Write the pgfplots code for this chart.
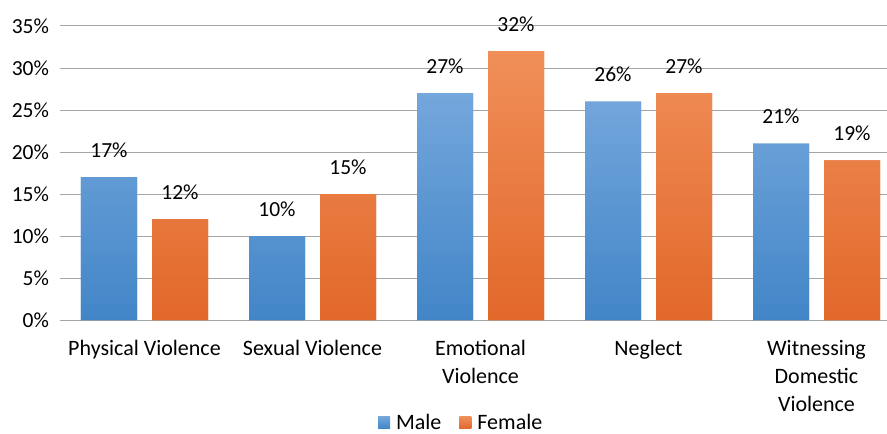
\documentclass[border=0pt]{standalone}
\usepackage{pgfplots}
\pgfplotsset{compat=1.18}
\usepackage{fontspec}
\setmainfont{Carlito}

\definecolor{maletop}{HTML}{74A7DC}
\definecolor{malebot}{HTML}{4285C7}
\definecolor{femtop}{HTML}{F08F59}
\definecolor{fembot}{HTML}{E2682A}
\definecolor{gridgray}{HTML}{A6A6A6}

\begin{document}
\begin{tikzpicture}
\useasboundingbox (-60.5pt,-114pt) rectangle (826.5pt,320pt);
\begin{axis}[
    scale only axis,
    width=840pt, height=294pt,
    ybar, bar width=56pt,
    ymin=0, ymax=35,
    xmin=-0.5, xmax=4.5,
    xtick={0,1,2,3,4},
    xticklabels={Physical Violence, Sexual Violence, Emotional\\Violence, Neglect, Witnessing\\Domestic\\Violence},
    x tick label style={align=center, font=\fontsize{22}{28}\selectfont, yshift=-17pt},
    ytick={0,5,...,35},
    yticklabel={\pgfmathprintnumber{\tick}\%},
    y tick label style={font=\fontsize{21.5}{28}\selectfont, xshift=-8pt},
    /pgf/number format/assume math mode=true,
    ymajorgrids=true,
    grid style={gridgray, line width=1pt},
    axis line style={draw=none},
    major tick length=0pt,
    nodes near coords={\pgfmathprintnumber{\pgfplotspointmeta}\%},
    nodes near coords style={font=\fontsize{21.5}{28}\selectfont, yshift=16pt},
    legend style={draw=none, at={(0.477,-0.349)}, anchor=center,
        legend columns=2, font=\fontsize{22}{28}\selectfont,
        /tikz/every even column/.append style={column sep=16pt}},
    legend image code/.code={\fill[#1] (1pt,-6pt) rectangle (13pt,6pt); \path (17pt,0pt);},
]
\addplot[bar shift=-35.5pt, draw=none, top color=maletop, bottom color=malebot, fill=malebot]
    coordinates {(0,17) (1,10) (2,27) (3,26) (4,21)};
\addlegendentry{Male}
\addplot[bar shift=35.5pt, draw=none, top color=femtop, bottom color=fembot, fill=fembot]
    coordinates {(0,12) (1,15) (2,32) (3,27) (4,19)};
\addlegendentry{Female}
\end{axis}
\end{tikzpicture}
\end{document}
